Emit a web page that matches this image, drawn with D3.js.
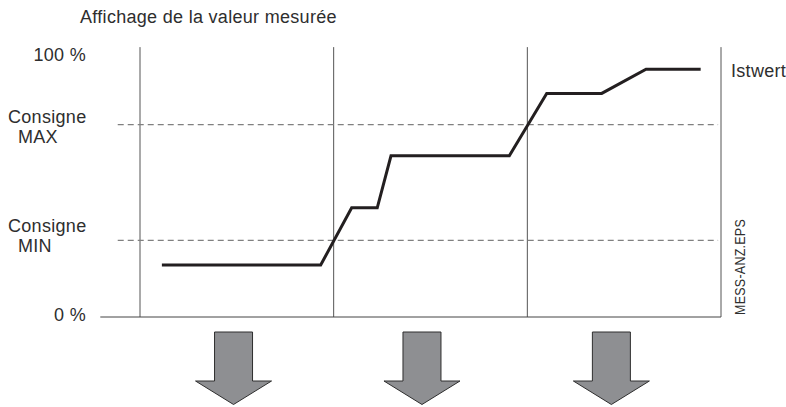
<!DOCTYPE html>
<html>
<head>
<meta charset="utf-8">
<script src="https://cdn.jsdelivr.net/npm/d3@7/dist/d3.min.js"></script>
<style>
  html, body { margin: 0; padding: 0; background: #fff; }
  svg { display: block; }
  text { font-family: "Helvetica Neue", Helvetica, "Liberation Sans", Arial, sans-serif; fill: #2e2e2e; letter-spacing: 0.3px; }
</style>
</head>
<body>
<svg id="chart" width="786" height="407"></svg>
<script>
// Scale end labels (percent of measuring range)
const tickValues = [0, 100];
const tickLabels = ["0 %", "100 %"];

// Setpoint thresholds (percent)
const setpointNames = ["MAX", "MIN"];
const setpointValues = [74, 29.5];

// Phase boundaries along the time axis
const phaseBounds = [0, 1, 2, 3];

// Measured value trace (time in phase units, value in percent)
const timeValues     = [0.113, 0.933, 1.093, 1.225, 1.296, 1.907, 2.100, 2.384, 2.613, 2.895];
const measuredValues = [20,    20,    42,    42,    62,    62,    86,    86,    95.3,  95.3];

// Centres of the down arrows under each phase
const arrowPositions = [0.483, 1.456, 2.434];

const svg = d3.select("#chart");

const x = d3.scaleLinear().domain([0, 3]).range([140, 721]);
const y = d3.scaleLinear().domain([0, 100]).range([317, 57]);

// Title
svg.append("text")
  .attr("x", 80).attr("y", 23)
  .attr("font-size", 18)
  .text("Affichage de la valeur mesurée");

// Vertical phase lines
svg.append("g").selectAll("line")
  .data(phaseBounds)
  .join("line")
  .attr("x1", d => x(d)).attr("x2", d => x(d))
  .attr("y1", y(103.8)).attr("y2", y(0))
  .attr("stroke", "#555").attr("stroke-width", 1);

// Baseline (0 %)
svg.append("line")
  .attr("x1", x(-0.205)).attr("x2", x(3))
  .attr("y1", y(0)).attr("y2", y(0))
  .attr("stroke", "#444").attr("stroke-width", 1);

// Setpoint dashed lines
svg.append("g").selectAll("line")
  .data(setpointValues)
  .join("line")
  .attr("x1", x(-0.115)).attr("x2", x(2.985))
  .attr("y1", d => y(d)).attr("y2", d => y(d))
  .attr("stroke", "#808080").attr("stroke-width", 1.3)
  .attr("stroke-dasharray", "6,4");

// Scale end labels
svg.append("g").selectAll("text")
  .data(tickValues)
  .join("text")
  .attr("x", 86).attr("y", d => y(d) + 4)
  .attr("text-anchor", "end")
  .attr("font-size", 18)
  .text((d, i) => tickLabels[i]);

// Setpoint labels: two-line block, the MAX block sits on its line, the MIN block above it
const blockShift = [-2, -8];
const spLabels = svg.append("g").selectAll("g")
  .data(setpointValues)
  .join("g")
  .attr("transform", (d, i) => `translate(0,${y(d) + blockShift[i]})`);
spLabels.append("text")
  .attr("x", 8).attr("y", 0)
  .attr("font-size", 18)
  .text("Consigne");
spLabels.append("text")
  .attr("x", 18).attr("y", 20)
  .attr("font-size", 18)
  .text((d, i) => setpointNames[i]);

// Measured value trace
const line = d3.line()
  .x((d, i) => x(timeValues[i]))
  .y(d => y(d));
svg.append("path")
  .datum(measuredValues)
  .attr("d", line)
  .attr("fill", "none")
  .attr("stroke", "#231f20")
  .attr("stroke-width", 3)
  .attr("stroke-linejoin", "miter");

// Right-hand labels
svg.append("text")
  .attr("x", 731).attr("y", 77)
  .attr("font-size", 18)
  .text("Istwert");

svg.append("text")
  .attr("transform", "translate(745,315) rotate(-90)")
  .attr("font-size", 14)
  .attr("textLength", 96)
  .attr("lengthAdjust", "spacingAndGlyphs")
  .text("MESS-ANZ.EPS");

// Down arrows
const shaftHalf = 19, headHalf = 38, shaftTop = 332, headTop = 381, tip = 404.5;
svg.append("g").selectAll("path")
  .data(arrowPositions)
  .join("path")
  .attr("d", d => {
    const c = x(d);
    return d3.line()([
      [c - shaftHalf, shaftTop], [c + shaftHalf, shaftTop],
      [c + shaftHalf, headTop], [c + headHalf, headTop],
      [c, tip], [c - headHalf, headTop],
      [c - shaftHalf, headTop]
    ]) + "Z";
  })
  .attr("fill", "#8e8f92")
  .attr("stroke", "#2e2e2e")
  .attr("stroke-width", 1)
  .attr("stroke-linejoin", "miter");
</script>
</body>
</html>
